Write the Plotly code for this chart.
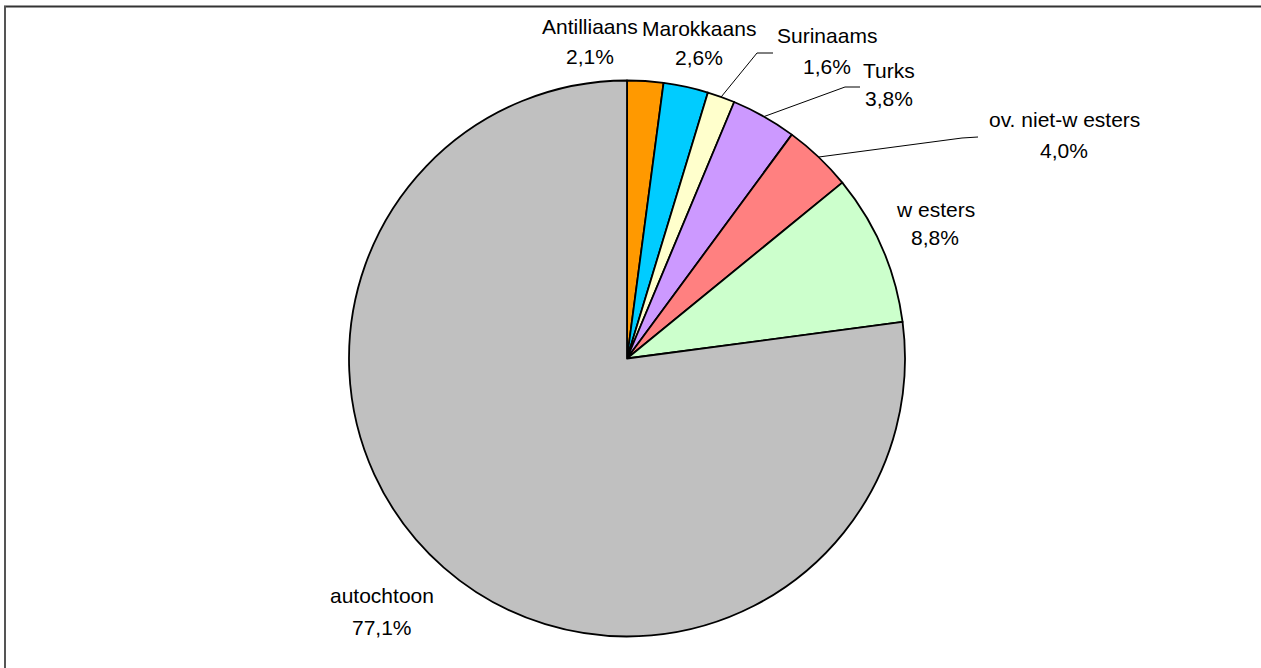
import math
import plotly.graph_objects as go

# ---- data ----
categories = ["Antilliaans", "Marokkaans", "Surinaams", "Turks",
              "ov. niet-w esters", "w esters", "autochtoon"]
values = [2.1, 2.6, 1.6, 3.8, 4.0, 8.8, 77.1]
pct_labels = ["2,1%", "2,6%", "1,6%", "3,8%", "4,0%", "8,8%", "77,1%"]
colors = ["#FF9900", "#00CCFF", "#FFFFCC", "#CC99FF", "#FF8080", "#CCFFCC", "#C0C0C0"]

# ---- layout constants (pixels) ----
W, H = 1261, 668
CX, CY, R = 627, 358.5, 278

def px(x):
    return x / W

def py(y):
    return 1 - y / H

fig = go.Figure()
fig.add_trace(go.Pie(
    labels=categories, values=values, sort=False, direction="clockwise",
    rotation=0, textinfo="none", hoverinfo="label+percent",
    marker=dict(colors=colors, line=dict(color="#000000", width=1.8)),
    domain=dict(x=[px(CX - R), px(CX + R)], y=[py(CY + R), py(CY - R)]),
    showlegend=False,
))

# label positions (pixel centres of name line and percent line)
label_pos = {
    "Antilliaans": (590, 26, 56),
    "Marokkaans": (699, 28, 58),
    "Surinaams": (827, 36, 66),
    "Turks": (889, 70, 98),
    "ov. niet-w esters": (1064, 120, 150),
    "w esters": (935, 209, 238),
    "autochtoon": (382, 595, 627),
}
font = dict(family="Liberation Sans, Arial, sans-serif", size=21, color="#000000")
annotations = []
for cat, pct in zip(categories, pct_labels):
    x, y1, y2 = label_pos[cat]
    annotations.append(dict(x=px(x), y=py(y1), xref="paper", yref="paper",
                            text=cat, showarrow=False, font=font,
                            xanchor="center", yanchor="middle"))
    annotations.append(dict(x=px(x), y=py(y2), xref="paper", yref="paper",
                            text=pct, showarrow=False, font=font,
                            xanchor="center", yanchor="middle"))

# leader lines: elbow point (pixels) and end at slice mid-angle on the rim
leaders = {
    "Surinaams": [(773, 53), (757, 53)],
    "Turks": [(860, 87), (845, 87)],
    "ov. niet-w esters": [(978, 137), (962, 138)],
}
total = sum(values)
cum = 0.0
shapes = []
for cat, v in zip(categories, values):
    mid = (cum + v / 2) / total * 2 * math.pi
    cum += v
    if cat in leaders:
        ex, ey = CX + R * math.sin(mid), CY - R * math.cos(mid)
        (ax, ay), (bx, by) = leaders[cat]
        for (x0, y0, x1, y1) in [(ax, ay, bx, by), (bx, by, ex, ey)]:
            shapes.append(dict(type="line", xref="paper", yref="paper",
                               x0=px(x0), y0=py(y0), x1=px(x1), y1=py(y1),
                               line=dict(color="#000000", width=1)))

# chart frame (top and left edges visible)
shapes.append(dict(type="line", xref="paper", yref="paper",
                   x0=px(4), y0=py(6.5), x1=px(W), y1=py(6.5),
                   line=dict(color="#333333", width=2)))
shapes.append(dict(type="line", xref="paper", yref="paper",
                   x0=px(5), y0=py(6), x1=px(5), y1=py(H),
                   line=dict(color="#555555", width=2)))

fig.update_layout(
    width=W, height=H, margin=dict(l=0, r=0, t=0, b=0),
    paper_bgcolor="#FFFFFF", plot_bgcolor="#FFFFFF",
    annotations=annotations, shapes=shapes,
)
fig.write_html("out.html", config={"displayModeBar": False},
               post_script="document.body.style.margin='0';document.body.style.overflow='hidden';")
